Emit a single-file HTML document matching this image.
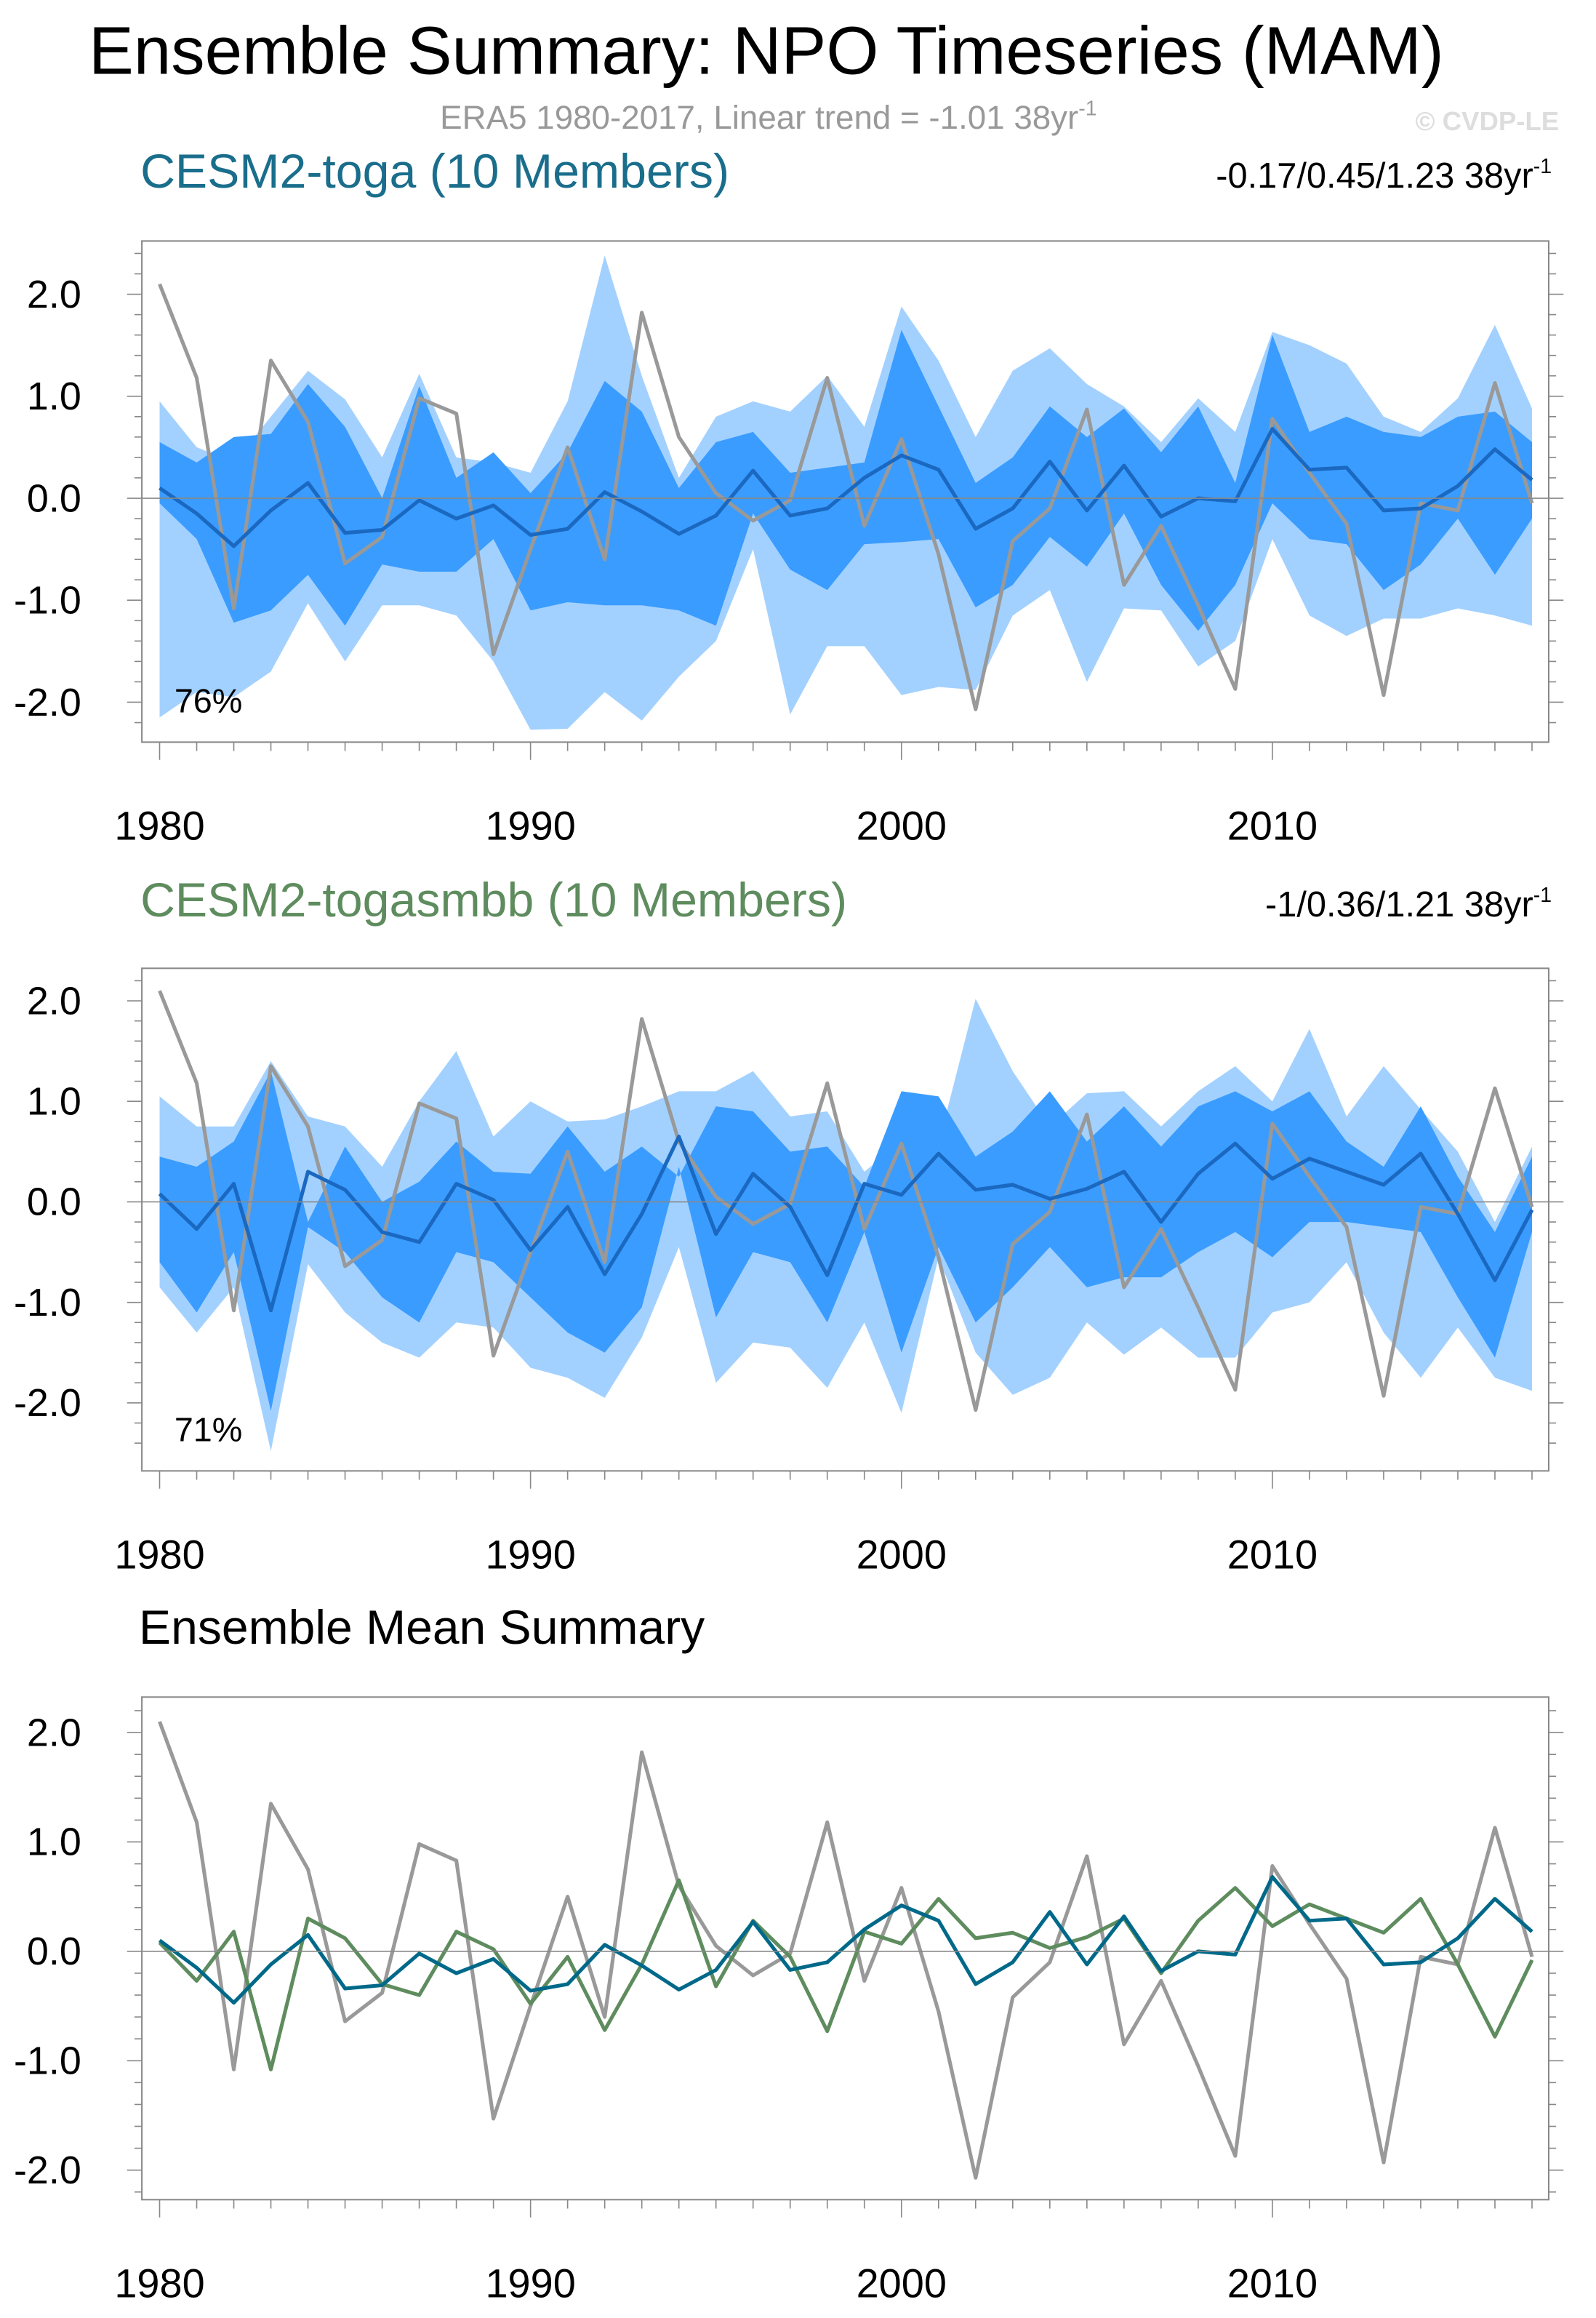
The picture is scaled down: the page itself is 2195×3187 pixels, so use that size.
<!DOCTYPE html>
<html><head><meta charset="utf-8"><style>
html,body{margin:0;padding:0;background:#fff}
svg{display:block;font-family:"Liberation Sans",sans-serif}
</style></head><body>
<svg id="c" width="2195" height="3187" viewBox="0 0 1080 1568" xmlns="http://www.w3.org/2000/svg">
<text x="60" y="50" font-size="45.6">Ensemble Summary: NPO Timeseries (MAM)</text>
<text x="520" y="87" font-size="22.5" fill="#999" text-anchor="middle">ERA5 1980-2017, Linear trend = -1.01 38yr<tspan dy="-9" font-size="14">-1</tspan></text>
<text x="1055" y="88" font-size="18" fill="#ddd" font-weight="bold" text-anchor="end">© CVDP-LE</text>
<text x="95" y="127" font-size="32.6" fill="#1a6e8c">CESM2-toga (10 Members)</text>
<text x="1050" y="127" font-size="24" text-anchor="end">-0.17/0.45/1.23 38yr<tspan dy="-10" font-size="14">-1</tspan></text>
<text x="95" y="620" font-size="32.6" fill="#5e8c5e">CESM2-togasmbb (10 Members)</text>
<text x="1050" y="620" font-size="24" text-anchor="end">-1/0.36/1.21 38yr<tspan dy="-10" font-size="14">-1</tspan></text>
<text x="94" y="1112" font-size="32.5">Ensemble Mean Summary</text>
</svg>
<script>
const years=[];for(let y=1980;y<=2017;y++)years.push(y);
const era5=[2.1,1.18,-1.08,1.35,0.75,-0.64,-0.38,0.98,0.83,-1.53,-0.5,0.5,-0.6,1.82,0.6,0.05,-0.22,-0.02,1.18,-0.27,0.58,-0.55,-2.07,-0.42,-0.1,0.87,-0.85,-0.27,-1.05,-1.87,0.78,0.25,-0.25,-1.93,-0.05,-0.12,1.13,-0.05];
const togaMean=[0.1,-0.15,-0.47,-0.12,0.15,-0.34,-0.31,-0.02,-0.2,-0.07,-0.36,-0.3,0.06,-0.13,-0.35,-0.17,0.27,-0.17,-0.1,0.2,0.42,0.28,-0.3,-0.1,0.36,-0.12,0.32,-0.18,0.0,-0.03,0.68,0.28,0.3,-0.12,-0.1,0.12,0.48,0.18];
const smbbMean=[0.08,-0.27,0.18,-1.08,0.3,0.12,-0.3,-0.4,0.18,0.02,-0.48,-0.05,-0.72,-0.12,0.65,-0.32,0.28,-0.05,-0.73,0.18,0.07,0.48,0.12,0.17,0.03,0.13,0.3,-0.2,0.28,0.58,0.23,0.43,0.3,0.17,0.48,-0.12,-0.78,-0.08];
const togaMax=[0.95,0.5,0.35,0.8,1.25,0.97,0.4,1.22,0.4,0.35,0.25,0.95,2.38,1.2,0.2,0.8,0.95,0.85,1.2,0.7,1.88,1.35,0.6,1.25,1.47,1.12,0.9,0.55,0.98,0.65,1.63,1.5,1.32,0.8,0.65,0.98,1.7,0.88];
const togaMin=[-2.15,-1.9,-1.95,-1.7,-1.03,-1.6,-1.05,-1.05,-1.15,-1.6,-2.27,-2.26,-1.9,-2.18,-1.75,-1.4,-0.5,-2.12,-1.45,-1.45,-1.93,-1.85,-1.88,-1.15,-0.9,-1.8,-1.08,-1.1,-1.65,-1.4,-0.4,-1.15,-1.35,-1.18,-1.18,-1.08,-1.15,-1.25];
const togaHi=[0.55,0.35,0.6,0.63,1.12,0.7,0.0,1.1,0.2,0.45,0.05,0.45,1.15,0.85,0.1,0.55,0.65,0.25,0.3,0.35,1.65,0.9,0.15,0.4,0.9,0.6,0.88,0.45,0.9,0.15,1.6,0.65,0.8,0.65,0.6,0.8,0.85,0.55];
const togaLo=[-0.05,-0.4,-1.22,-1.1,-0.75,-1.25,-0.65,-0.72,-0.72,-0.4,-1.1,-1.02,-1.05,-1.05,-1.1,-1.25,-0.15,-0.7,-0.9,-0.45,-0.43,-0.4,-1.07,-0.85,-0.38,-0.67,-0.15,-0.85,-1.3,-0.85,-0.05,-0.4,-0.45,-0.9,-0.65,-0.2,-0.75,-0.2];
const smbbMax=[1.05,0.75,0.75,1.4,0.85,0.75,0.35,1.0,1.5,0.65,1.0,0.8,0.82,0.95,1.1,1.1,1.3,0.85,0.9,0.3,0.6,0.58,2.02,1.3,0.75,1.08,1.1,0.75,1.1,1.35,1.0,1.72,0.85,1.35,0.92,0.5,-0.2,0.55];
const smbbMin=[-0.85,-1.3,-0.85,-2.48,-0.62,-1.1,-1.4,-1.55,-1.2,-1.25,-1.65,-1.75,-1.95,-1.35,-0.45,-1.8,-1.4,-1.45,-1.85,-1.2,-2.1,-0.55,-1.5,-1.92,-1.75,-1.2,-1.52,-1.25,-1.55,-1.55,-1.1,-1.0,-0.6,-1.3,-1.75,-1.25,-1.75,-1.88];
const smbbHi=[0.45,0.35,0.6,1.3,-0.2,0.55,0.0,0.2,0.6,0.3,0.28,0.75,0.3,0.55,0.25,0.95,0.9,0.5,0.55,0.15,1.1,1.05,0.45,0.7,1.1,0.6,0.95,0.55,0.95,1.1,0.9,1.1,0.6,0.35,0.95,0.25,-0.3,0.45];
const smbbLo=[-0.6,-1.1,-0.5,-2.08,-0.25,-0.5,-0.95,-1.2,-0.5,-0.6,-0.95,-1.3,-1.5,-1.05,0.35,-1.15,-0.5,-0.6,-1.2,-0.3,-1.5,-0.45,-1.2,-0.85,-0.45,-0.85,-0.75,-0.75,-0.5,-0.3,-0.55,-0.2,-0.2,-0.25,-0.3,-0.95,-1.55,-0.3];
const yTicks=[2,1,0,-1,-2];const yTickLabels=["2.0","1.0","0.0","-1.0","-2.0"];
const xTicks=[1980,1990,2000,2010];

const svg=document.getElementById('c');const NS="http://www.w3.org/2000/svg";
function mk(t,a,p){const e=document.createElementNS(NS,t);for(const k in a)e.setAttribute(k,a[k]);(p||svg).appendChild(e);return e;}
const X=y=>108+(y-1980)*25.1;
function panel(idx,top,bot,zero,unit,draw){
  const g=mk('g',{});
  
  
  const Y=v=>zero-v*unit;
  draw(g,Y);
  mk('line',{x1:96,x2:1048,y1:zero,y2:zero,stroke:'#888','stroke-width':0.8},g);
  const box=mk('rect',{x:96,y:top,width:952,height:bot-top,fill:'none',stroke:'#888','stroke-width':1},g);
  
  
  for(let v=-2.4;v<=2.41;v+=0.2){const yy=Y(v);if(yy<top||yy>bot)continue;const maj=Math.abs(v-Math.round(v))<0.01;const L=maj?10:5;
    mk('line',{x1:96-L,x2:96,y1:yy,y2:yy,stroke:'#888','stroke-width':0.8},g);
    mk('line',{x1:1048,x2:1048+L,y1:yy,y2:yy,stroke:'#888','stroke-width':0.8},g);}
  yTicks.forEach((v,i)=>{const t=mk('text',{x:55,y:Y(v)+9,'font-size':26.5,'text-anchor':'end'},g);t.textContent=yTickLabels[i];
    
    });
  years.forEach(y=>{const maj=y%10==0;mk('line',{x1:X(y),x2:X(y),y1:bot,y2:bot+(maj?12:6),stroke:'#888','stroke-width':0.8},g);});
  xTicks.forEach(y=>{const t=mk('text',{x:X(y),y:bot+66,'font-size':27.5,'text-anchor':'middle'},g);t.textContent=y;
    
    });
  return Y;
}
function band(g,Y,hi,lo,fill,name){
  let d='M'+years.map((y,i)=>X(y)+','+Y(hi[i])).join('L')+'L'+years.slice().reverse().map((y,j)=>X(y)+','+Y(lo[lo.length-1-j])).join('L')+'Z';
  const p=mk('path',{d:d,fill:fill},g);
  
  
}
function line(g,Y,vals,col,w,name){
  const p=mk('polyline',{points:years.map((y,i)=>X(y)+','+Y(vals[i])).join(' '),fill:'none',stroke:col,'stroke-width':w,'stroke-linejoin':'round'},g);
  
  
}
panel(1,163,502,337,69,(g,Y)=>{band(g,Y,togaMax,togaMin,'#a3d1ff','range-band');band(g,Y,togaHi,togaLo,'#3a9cff','spread-band');line(g,Y,era5,'#999',2.5,'era5-line');line(g,Y,togaMean,'#1a68c0',2.5,'ensemble-mean-line');});
panel(2,655,995,813,68,(g,Y)=>{band(g,Y,smbbMax,smbbMin,'#a3d1ff','range-band');band(g,Y,smbbHi,smbbLo,'#3a9cff','spread-band');line(g,Y,era5,'#999',2.5,'era5-line');line(g,Y,smbbMean,'#1a68c0',2.5,'ensemble-mean-line');});
panel(3,1148,1488,1320,74,(g,Y)=>{line(g,Y,era5,'#999',2.5,'era5-line');line(g,Y,smbbMean,'#5e8c5e',2.5,'togasmbb-mean-line');line(g,Y,togaMean,'#006989',2.5,'toga-mean-line');});
const p1=mk('text',{x:118,y:482,'font-size':23});p1.textContent='76%';


const p2=mk('text',{x:118,y:975,'font-size':23});p2.textContent='71%';


</script>
</body></html>
